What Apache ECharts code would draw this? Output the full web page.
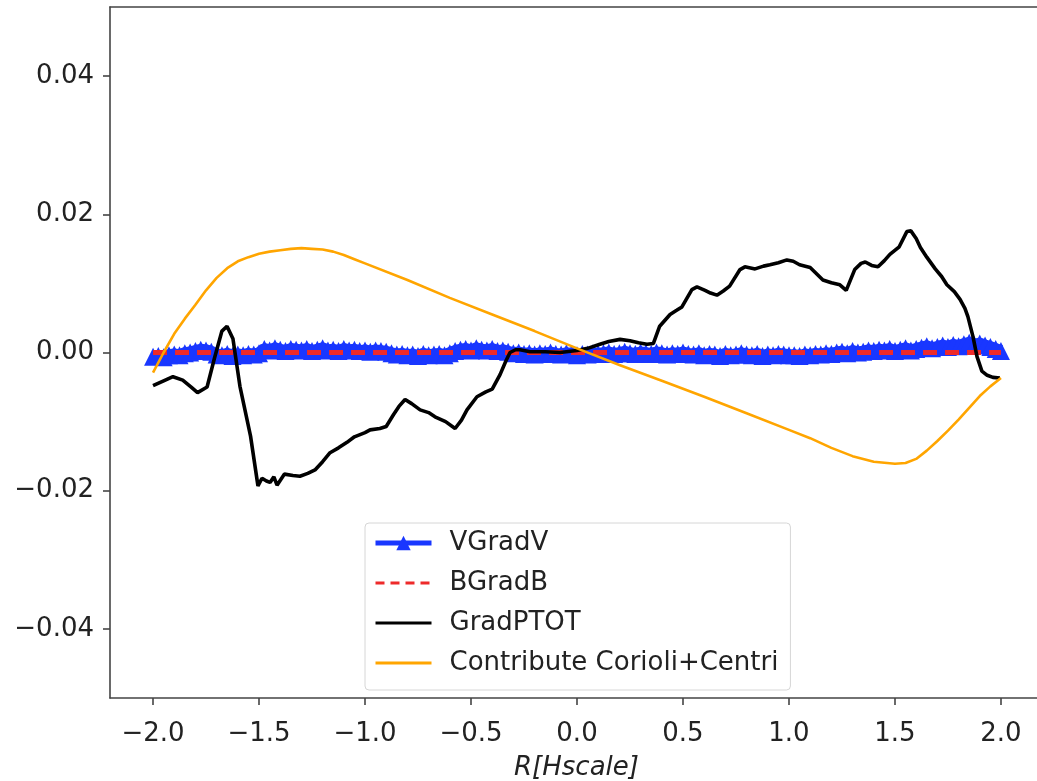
<!DOCTYPE html>
<html>
<head>
<meta charset="utf-8">
<script src="https://cdn.jsdelivr.net/npm/echarts@6/dist/echarts.min.js"></script>
<style>
html,body{margin:0;padding:0;background:#fff;}
#chart{width:1037px;height:781px;}
</style>
</head>
<body>
<div id="chart"></div>
<script>
// ---- data ----
const xTicks = [-2.0, -1.5, -1.0, -0.5, 0.0, 0.5, 1.0, 1.5, 2.0];
const yTicks = [-0.04, -0.02, 0.00, 0.02, 0.04];

// VGradV sampled every 0.025 from -2.0 to 2.0
const vgradvStart = -2.0;
const vgradvStep = 0.025;
const vgradvValues = [
  -0.0006,-0.0005,-0.0007,-0.0004,-0.0003,-0.0004,-0.0001,0.0000,0.0002,
  0.0004,0.0003,0.0001,
  -0.0003,-0.0004,-0.0002,-0.0005,-0.0003,-0.0004,-0.0002,-0.0003,-0.0001,
  0.0005,0.0003,0.0006,0.0004,0.0002,0.0005,0.0004,0.0003,0.0005,0.0002,0.0004,0.0006,
  0.0003,0.0004,0.0002,0.0005,0.0003,0.0004,0.0002,0.0003,0.0001,0.0003,0.0002,0.0001,
  -0.0001,-0.0003,-0.0002,-0.0004,-0.0003,-0.0005,-0.0002,-0.0004,-0.0003,-0.0002,-0.0004,-0.0001,
  0.0002,0.0004,0.0005,0.0003,0.0006,0.0004,0.0003,0.0005,0.0002,0.0003,
  0.0001,-0.0001,0.0000,-0.0002,-0.0001,-0.0003,-0.0001,-0.0002,0.0000,-0.0002,-0.0003,-0.0001,
  -0.0002,-0.0004,-0.0002,-0.0003,-0.0001,-0.0002,
  -0.0001,0.0000,-0.0002,-0.0001,0.0001,-0.0001,-0.0002,0.0000,-0.0001,-0.0002,0.0000,-0.0001,
  -0.0003,-0.0001,-0.0002,0.0000,
  -0.0002,-0.0003,-0.0001,-0.0004,-0.0002,-0.0003,-0.0005,-0.0002,-0.0004,-0.0003,-0.0001,-0.0003,
  -0.0004,-0.0002,-0.0005,-0.0003,-0.0004,-0.0002,-0.0003,-0.0004,
  -0.0004,-0.0005,-0.0003,-0.0004,-0.0002,-0.0003,-0.0001,-0.0002,
  0.0000,0.0001,-0.0001,0.0002,0.0000,0.0001,0.0003,0.0002,
  0.0004,0.0003,0.0005,0.0002,0.0004,0.0006,0.0003,0.0005,
  0.0007,0.0009,0.0006,0.0008,0.0010,0.0008,0.0011,0.0009,
  0.0012,0.0014,0.0011,0.0013,0.0010,0.0008,0.0005,0.0002
];

const bgradbX = [-2.0, -1.0, 0.0, 1.0, 2.0];
const bgradbValues = [0.0, 0.0, 0.0, 0.0, 0.0];

const gradptotX = [
  -2.0,-1.95,-1.906,-1.86,-1.82,-1.79,-1.745,-1.71,-1.675,-1.651,-1.623,-1.59,-1.54,-1.505,-1.486,
  -1.465,-1.448,-1.43,-1.415,-1.38,-1.34,-1.307,-1.27,-1.236,-1.2,-1.165,-1.125,-1.085,-1.05,-1.0,
  -0.976,-0.93,-0.9,-0.866,-0.84,-0.811,-0.78,-0.74,-0.7,-0.67,-0.62,-0.575,-0.545,-0.519,-0.472,
  -0.43,-0.40,-0.363,-0.335,-0.316,-0.29,-0.269,-0.222,-0.15,-0.08,0.0,0.05,0.108,0.15,0.203,
  0.25,0.29,0.33,0.36,0.39,0.439,0.47,0.495,0.542,0.566,0.604,0.63,0.66,0.69,0.72,
  0.769,0.792,0.84,0.88,0.91,0.95,0.99,1.02,1.05,1.10,1.13,1.16,1.2,1.24,1.27,
  1.31,1.34,1.36,1.39,1.42,1.45,1.476,1.52,1.556,1.575,1.6,1.62,1.65,1.69,1.72,
  1.745,1.78,1.807,1.83,1.844,1.868,1.887,1.91,1.935,1.962,1.995
];
const gradptotValues = [
  -0.0048,-0.0041,-0.0035,-0.0040,-0.0050,-0.0058,-0.0050,-0.0008,0.0031,0.0038,0.0020,-0.0049,-0.0121,-0.0193,-0.0182,
  -0.0186,-0.0188,-0.0180,-0.0192,-0.0176,-0.0178,-0.0179,-0.0175,-0.0170,-0.0158,-0.0145,-0.0138,-0.0130,-0.0122,-0.0116,
  -0.0112,-0.0110,-0.0107,-0.0090,-0.0078,-0.0068,-0.0074,-0.0083,-0.0087,-0.0093,-0.0100,-0.0110,-0.0098,-0.0083,-0.0064,
  -0.0057,-0.0053,-0.0032,-0.0012,0.0000,0.0004,0.0004,0.0001,0.0001,0.0000,0.0003,0.0006,0.0012,0.0016,0.0019,
  0.0017,0.0014,0.0012,0.0013,0.0038,0.0055,0.0061,0.0066,0.0091,0.0095,0.0090,0.0086,0.0083,0.0089,0.0096,
  0.0120,0.0124,0.0121,0.0125,0.0127,0.0130,0.0134,0.0132,0.0127,0.0123,0.0114,0.0105,0.0101,0.0098,0.0090,
  0.0120,0.0129,0.0131,0.0126,0.0124,0.0133,0.0142,0.0153,0.0175,0.0176,0.0165,0.0152,0.0138,0.0121,0.0110,
  0.0098,0.0088,0.0077,0.0064,0.0052,0.0023,-0.0006,-0.0027,-0.0033,-0.0036,-0.0037
];

const corioliX = [
  -2.0,-1.95,-1.9,-1.85,-1.8,-1.75,-1.7,-1.65,-1.6,-1.55,-1.5,-1.45,-1.4,-1.35,-1.3,-1.25,-1.2,-1.15,-1.1,-1.05,
  -1.0,-0.8,-0.6,-0.4,-0.2,0.0,0.2,0.4,0.6,0.8,1.0,1.1,1.2,1.3,1.4,1.5,1.55,1.6,1.65,1.7,1.75,1.8,1.85,1.9,1.95,2.0
];
const corioliValues = [
  -0.0029,0.0000,0.0027,0.0049,0.0069,0.0090,0.0108,0.0122,0.0132,0.0138,0.0143,0.0146,0.0148,0.0150,0.0151,0.0150,0.0149,0.0146,0.0141,0.0135,
  0.0129,0.0105,0.0079,0.0055,0.0031,0.0006,-0.0018,-0.0041,-0.0064,-0.0088,-0.0112,-0.0124,-0.0138,-0.0150,-0.0158,-0.0161,-0.0160,-0.0154,-0.0142,-0.0128,-0.0113,-0.0097,-0.0080,-0.0063,-0.0049,-0.0037
];

const seriesNames = ['VGradV', 'BGradB', 'GradPTOT', 'Contribute Corioli+Centri'];

// ---- build ----
function pairs(xs, ys) { return xs.map((x, i) => [x, ys[i]]); }
const vgradvData = vgradvValues.map((v, i) => [vgradvStart + i * vgradvStep, v]);
const minus = s => s.replace('-', '\u2212');

const FONT = 'DejaVu Sans';
const FS = 26;
const axisColor = '#444';
const BLUE = '#1937ff', RED = '#ee2a2a', ORANGE = '#ffa500';
const chart = echarts.init(document.getElementById('chart'), null, {renderer: 'canvas'});
chart.setOption({
  animation: false,
  backgroundColor: '#fff',
  grid: {left: 110, top: 7, right: 0, bottom: 83, containLabel: false, outerBoundsMode: 'none'},
  legend: {
    orient: 'vertical',
    left: 365, top: 523,
    padding: [7, 12, 14, 8],
    itemWidth: 56, itemHeight: 18, itemGap: 14,
    backgroundColor: 'rgba(255,255,255,0.8)',
    borderColor: '#d6d6d6', borderWidth: 1, borderRadius: 4,
    textStyle: {fontFamily: FONT, fontSize: FS, color: '#222', padding: [0, 0, 0, 13]},
    data: [
      {name: seriesNames[0], lineStyle: {width: 5, color: BLUE}},
      {name: seriesNames[1], itemStyle: {opacity: 0}, lineStyle: {width: 3, color: RED, type: [9, 6]}},
      {name: seriesNames[2], itemStyle: {opacity: 0}, lineStyle: {width: 3, color: '#000'}},
      {name: seriesNames[3], itemStyle: {opacity: 0}, lineStyle: {width: 3, color: ORANGE}}
    ]
  },
  xAxis: [{
    type: 'value', min: -2.203, max: 2.170,
    name: 'R[Hscale]', nameLocation: 'middle', nameGap: 57,
    nameTextStyle: {fontFamily: FONT, fontSize: FS, fontStyle: 'italic', color: '#222', padding: [0, 0, 0, 6]},
    axisLine: {show: true, onZero: false, lineStyle: {color: axisColor, width: 1.6}},
    axisTick: {show: true, length: 7, customValues: xTicks, lineStyle: {color: axisColor, width: 1.6}},
    axisLabel: {customValues: xTicks, fontFamily: FONT, fontSize: FS, color: '#222', margin: 23,
      formatter: v => minus(v.toFixed(1))},
    splitLine: {show: false}
  }, {
    type: 'value', position: 'top', min: -2.203, max: 2.170,
    axisLine: {show: true, onZero: false, lineStyle: {color: axisColor, width: 1.6}},
    axisTick: {show: false}, axisLabel: {show: false}, splitLine: {show: false}
  }],
  yAxis: {
    type: 'value', min: -0.05, max: 0.05,
    axisLine: {show: true, onZero: false, lineStyle: {color: axisColor, width: 1.6}},
    axisTick: {show: true, length: 7, customValues: yTicks, lineStyle: {color: axisColor, width: 1.6}},
    axisLabel: {customValues: yTicks, fontFamily: FONT, fontSize: FS, color: '#222', margin: 16,
      formatter: v => minus(v.toFixed(2))},
    splitLine: {show: false}
  },
  series: [{
    name: seriesNames[0], type: 'line', data: vgradvData, z: 2,
    symbol: 'triangle', symbolSize: [18, 18], showSymbol: true,
    itemStyle: {color: BLUE},
    lineStyle: {color: BLUE, width: 12}
  }, {
    name: seriesNames[1], type: 'line', data: pairs(bgradbX, bgradbValues), z: 3,
    symbol: 'none', showSymbol: false,
    itemStyle: {color: RED},
    lineStyle: {color: RED, width: 5, type: [14, 8]}
  }, {
    name: seriesNames[2], type: 'line', data: pairs(gradptotX, gradptotValues), z: 4,
    symbol: 'none', showSymbol: false,
    itemStyle: {color: '#000'},
    lineStyle: {color: '#000', width: 3.6}
  }, {
    name: seriesNames[3], type: 'line', data: pairs(corioliX, corioliValues), z: 5,
    symbol: 'none', showSymbol: false,
    itemStyle: {color: ORANGE},
    lineStyle: {color: ORANGE, width: 2.6}
  }]
});
</script>
</body>
</html>
